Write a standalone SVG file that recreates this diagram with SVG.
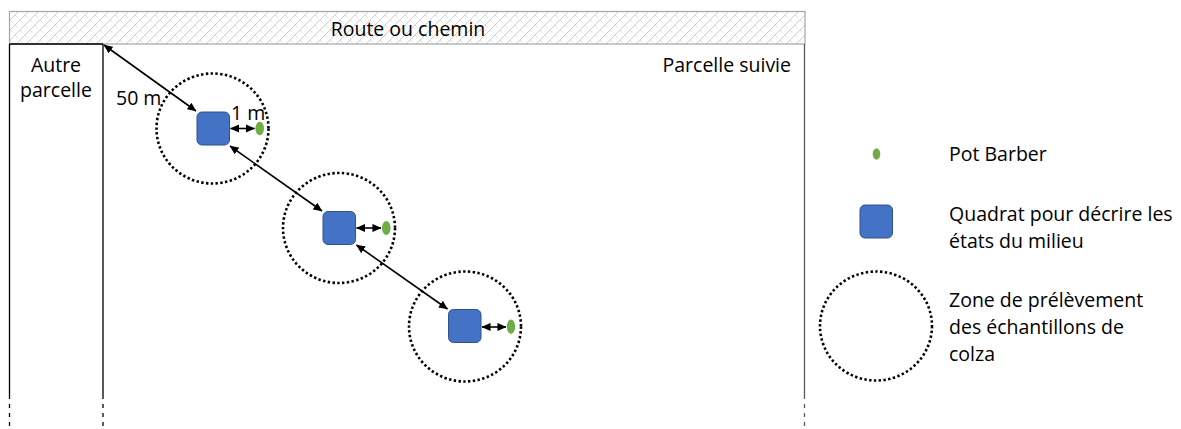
<svg xmlns="http://www.w3.org/2000/svg" width="1181" height="429" viewBox="0 0 1181 429">
<style>
text{font-family:"Open Sans","Liberation Sans",sans-serif;font-size:19.5px;fill:#000}
.quad{fill:#4472c4;stroke:#2f528f;stroke-width:1}
.pot{fill:#70ad47}
.zone{fill:none;stroke:#000;stroke-width:2.6;stroke-dasharray:2.4 2.4}
.conn{stroke:#000;stroke-width:1.6;fill:none;marker-start:url(#ah);marker-end:url(#ah)}
</style>
<defs>
<pattern id="brick" width="10" height="10" patternUnits="userSpaceOnUse">
<path d="M0 10 L10 0 M-2 2 L2 -2 M8 12 L12 8" stroke="#c8c8c8" stroke-width="0.9" fill="none"/>
<path d="M0 0 L5 5 M5 5 L10 10" stroke="#d0d0d0" stroke-width="0.7" fill="none" stroke-dasharray="3.5 3.5"/>
</pattern>
<marker id="ah" viewBox="0 0 10 10" refX="9.5" refY="5" markerWidth="9" markerHeight="9" markerUnits="userSpaceOnUse" orient="auto-start-reverse">
<path d="M0 0.5 L10 5 L0 9.5 Z" fill="#000"/>
</marker>
</defs>

<g id="road">
<rect x="9.5" y="11.5" width="795.5" height="32.5" fill="url(#brick)" stroke="#a6a6a6" stroke-width="1.2"/>
<text x="408" y="36" text-anchor="middle">Route ou chemin</text>
</g>

<g id="autre-parcelle">
<path d="M9.5 44 V395 M103 44 V395 M9.5 44 H103" stroke="#000" stroke-width="1.3" fill="none"/>
<path d="M9.5 395 V429 M103 395 V429" stroke="#000" stroke-width="1.3" stroke-dasharray="4 5" fill="none"/>
<text x="56" y="72" text-anchor="middle">Autre</text>
<text x="56" y="97" text-anchor="middle">parcelle</text>
</g>

<g id="parcelle-suivie">
<path d="M804.5 44 V395" stroke="#595959" stroke-width="1.3" fill="none"/>
<path d="M804.5 395 V429" stroke="#595959" stroke-width="1.3" stroke-dasharray="4 5" fill="none"/>
<text x="791" y="72" text-anchor="end">Parcelle suivie</text>
</g>

<g id="zone1"><ellipse class="zone" cx="212.5" cy="128.5" rx="56" ry="55"/></g>
<g id="zone2"><ellipse class="zone" cx="339" cy="228" rx="56" ry="55"/></g>
<g id="zone3"><ellipse class="zone" cx="465" cy="326.5" rx="56" ry="55"/></g>

<g id="quadrat1"><rect class="quad" x="197" y="112" width="32.5" height="33" rx="5"/></g>
<g id="quadrat2"><rect class="quad" x="323" y="211.5" width="32.5" height="33" rx="5"/></g>
<g id="quadrat3"><rect class="quad" x="448.5" y="309.5" width="32.5" height="33" rx="5"/></g>

<g id="pot1"><ellipse class="pot" cx="259.7" cy="128.5" rx="4.3" ry="6.7"/></g>
<g id="pot2"><ellipse class="pot" cx="386.3" cy="228" rx="4.3" ry="7"/></g>
<g id="pot3"><ellipse class="pot" cx="511" cy="326.7" rx="4.1" ry="7.3"/></g>

<g id="connectors">
<line class="conn" x1="104" y1="45" x2="196" y2="111"/>
<line class="conn" x1="230" y1="146" x2="322" y2="211"/>
<line class="conn" x1="356.5" y1="245" x2="447.5" y2="309"/>
<line class="conn" x1="230.5" y1="128.5" x2="254.5" y2="128.5"/>
<line class="conn" x1="356.5" y1="228" x2="381" y2="228"/>
<line class="conn" x1="482" y1="327" x2="506" y2="327"/>
</g>

<g id="labels">
<text x="116" y="105">50 m</text>
<text x="231" y="119.5">1 m</text>
</g>

<g id="legend-pot">
<ellipse class="pot" cx="876.5" cy="154" rx="3.8" ry="5.8"/>
<text x="949" y="161">Pot Barber</text>
</g>
<g id="legend-quadrat">
<rect class="quad" x="860" y="205" width="32.5" height="33" rx="5"/>
<text x="949" y="221">Quadrat pour décrire les</text>
<text x="949" y="248">états du milieu</text>
</g>
<g id="legend-zone">
<ellipse class="zone" cx="876" cy="326" rx="56" ry="54.5"/>
<text x="949" y="307">Zone de prélèvement</text>
<text x="949" y="334">des échantillons de</text>
<text x="949" y="361">colza</text>
</g>
</svg>
